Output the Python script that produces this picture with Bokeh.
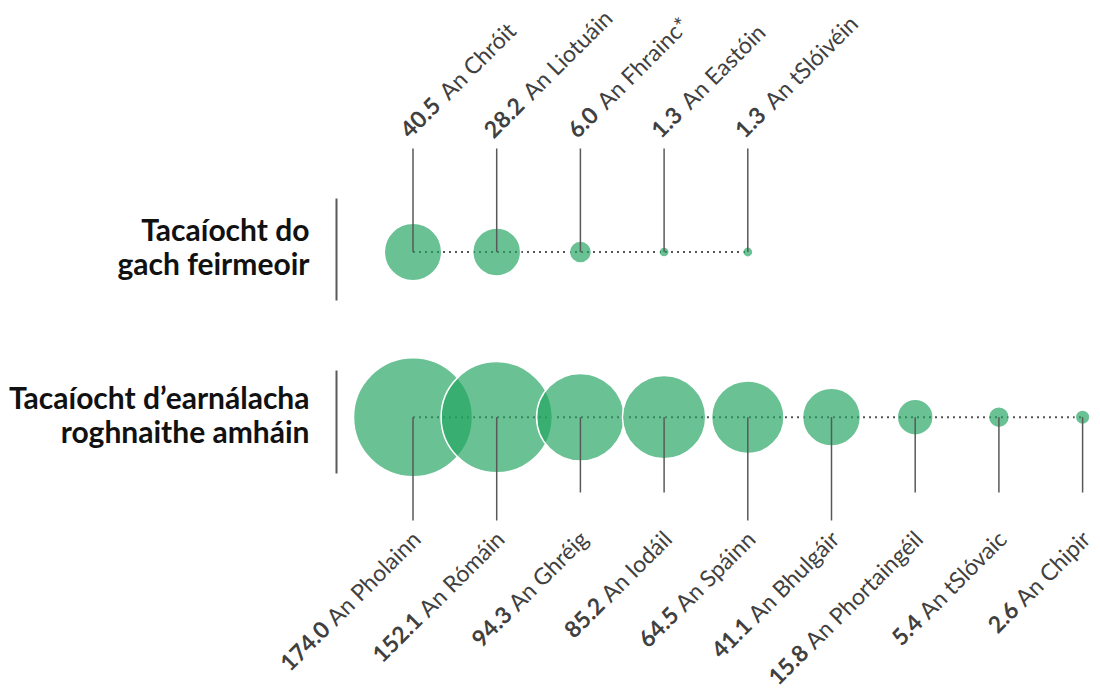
import glob, math, subprocess
from bokeh.plotting import figure
from bokeh.models import Range1d, ColumnDataSource
from bokeh.core.properties import value
from bokeh.embed import file_html
from bokeh.resources import INLINE

# ---------------- data ----------------
ROW_LABELS = ["Tacaíocht do\ngach feirmeoir", "Tacaíocht d’earnálacha\nroghnaithe amháin"]
TOP_NAMES = ["An Chróit", "An Liotuáin", "An Fhrainc*", "An Eastóin", "An tSlóivéin"]
TOP_VALUES = [40.5, 28.2, 6.0, 1.3, 1.3]
BOT_NAMES = ["An Pholainn", "An Rómáin", "An Ghréig", "An Iodáil", "An Spáinn",
             "An Bhulgáir", "An Phortaingéil", "An tSlóvaic", "An Chipir"]
BOT_VALUES = [174.0, 152.1, 94.3, 85.2, 64.5, 41.1, 15.8, 5.4, 2.6]

# ---------------- layout ----------------
W, H = 1100, 692
X0, DX = 412.5, 83.7          # px of first column, px per column
YTOP, YBOT = 251.5, 416.7     # px of row centres
PY = YBOT - YTOP
MAX_D = 119.0                 # diameter of the largest bubble (px)
VMAX = max(TOP_VALUES + BOT_VALUES)
FS = 23                       # label font size (px)
FS_ROW = 30
FONT = "Lato"
GREEN = "#21A460"
LINE = "#595959"
TXT = "#404040"

def dxd(px):
    return px / DX

def dyd(px_up):
    return px_up / PY

def find_font(name):
    for pat in ["/usr/share/fonts/**/%s.ttf" % name, "/usr/local/share/fonts/**/%s.ttf" % name,
                "/usr/share/fonts/**/%s*.ttf" % name]:
        r = glob.glob(pat, recursive=True)
        if r:
            return r[0]
    try:
        out = subprocess.run(["fc-match", "-f", "%{file}", name.replace("-", ":style=")],
                             capture_output=True, text=True).stdout.strip()
        if out:
            return out
    except Exception:
        pass
    return None

try:
    from PIL import ImageFont
    _reg = ImageFont.truetype(find_font("Lato-Regular"), FS)
    _bold = ImageFont.truetype(find_font("Lato-Bold"), FS)
    def tw(s, bold=False):
        return (_bold if bold else _reg).getlength(s)
except Exception:
    def tw(s, bold=False):
        return len(s) * FS * (0.56 if bold else 0.50)

p = figure(width=W, height=H, output_backend="svg", toolbar_location=None,
           x_range=Range1d(-X0 / DX, (W - X0) / DX),
           y_range=Range1d(-(H - YBOT) / PY, 1 + YTOP / PY),
           min_border=0, background_fill_color="white", border_fill_color="white")
p.axis.visible = False
p.grid.visible = False
p.outline_line_color = None

rows = [(1.0, TOP_NAMES, TOP_VALUES), (0.0, BOT_NAMES, BOT_VALUES)]

# dotted connectors
for ry, names, vals in rows:
    p.line(x=[0, len(vals) - 1], y=[ry, ry], line_color="#555555", line_width=2,
           line_dash="2 4", level="underlay")

# bubbles
for ry, names, vals in rows:
    xs = list(range(len(vals)))
    sizes = [MAX_D * math.sqrt(v / VMAX) for v in vals]
    src = ColumnDataSource(dict(x=xs, y=[ry] * len(vals), s=sizes))
    p.scatter(x="x", y="y", size="s", source=src, fill_color=GREEN, fill_alpha=0.67,
              line_color="white", line_width=1.5)

# leader lines
TOP_LEN = 103.5
BOT_LEN = [103.3, 103.3, 75.3, 75.3, 103.3, 103.3, 75.3, 75.3, 75.3]
xs = list(range(len(TOP_VALUES)))
p.segment(x0=xs, y0=[1.0] * len(xs), x1=xs, y1=[1.0 + dyd(TOP_LEN)] * len(xs),
          line_color=LINE, line_width=1.5)
xs = list(range(len(BOT_VALUES)))
p.segment(x0=xs, y0=[0.0] * len(xs), x1=xs, y1=[-dyd(L) for L in BOT_LEN],
          line_color=LINE, line_width=1.5)

ANG = math.pi / 4
C = math.cos(ANG)
GAP_TOP = 9.0
GAP_BOT = 6.0

# top labels: baseline start just above leader line
tx, ty, nx, ny, nums, nms = [], [], [], [], [], []
for i, (n, v) in enumerate(zip(TOP_NAMES, TOP_VALUES)):
    sx = i + dxd(-9)
    sy = 1.0 + dyd(118.5)
    s = "%.1f" % v
    w = tw(s, True) + GAP_TOP
    tx.append(sx); ty.append(sy); nums.append(s)
    nx.append(sx + dxd(w * C)); ny.append(sy + dyd(w * C)); nms.append(n)
p.text(x=tx, y=ty, text=nums, angle=ANG, text_align="left", text_baseline="alphabetic",
       text_font=value(FONT), text_font_style="bold", text_font_size="%dpx" % FS, text_color=TXT)
p.text(x=nx, y=ny, text=nms, angle=ANG, text_align="left", text_baseline="alphabetic",
       text_font=value(FONT), text_font_size="%dpx" % FS, text_color=TXT)

# bottom labels: baseline end below leader line
tx, ty, nx, ny, nums, nms = [], [], [], [], [], []
for i, (n, v) in enumerate(zip(BOT_NAMES, BOT_VALUES)):
    ex = i + dxd(3)
    ey = dyd(-117.3)
    s = "%.1f" % v
    w = tw(n) + GAP_BOT
    nx.append(ex); ny.append(ey); nms.append(n)
    tx.append(ex - dxd(w * C)); ty.append(ey - dyd(w * C)); nums.append(s)
p.text(x=tx, y=ty, text=nums, angle=ANG, text_align="right", text_baseline="alphabetic",
       text_font=value(FONT), text_font_style="bold", text_font_size="%dpx" % FS, text_color=TXT)
p.text(x=nx, y=ny, text=nms, angle=ANG, text_align="right", text_baseline="alphabetic",
       text_font=value(FONT), text_font_size="%dpx" % FS, text_color=TXT)

# row labels and separators
LBL_X = 309.0
SEP_X = 336.0
LBL_OFF = [(23.0, -11.0), (20.0, -14.0)]
SEP = [(53.5, -48.5), (46.7, -56.3)]
for k, (ry, names, vals) in enumerate(rows):
    l1, l2 = ROW_LABELS[k].split("\n")
    a, b = LBL_OFF[k]
    p.text(x=[dxd(LBL_X - X0)] * 2, y=[ry + dyd(a), ry + dyd(b)], text=[l1, l2],
           text_align="right", text_baseline="alphabetic", text_font=value(FONT),
           text_font_style="bold", text_font_size="%dpx" % FS_ROW, text_color="#111111")
    a, b = SEP[k]
    p.segment(x0=[dxd(SEP_X - X0)], y0=[ry + dyd(a)], x1=[dxd(SEP_X - X0)], y1=[ry + dyd(b)],
              line_color=LINE, line_width=2)

open("out.html", "w").write(file_html(p, INLINE))
